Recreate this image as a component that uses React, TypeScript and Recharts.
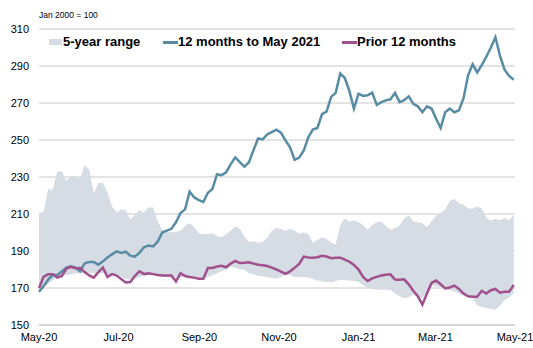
import { ComposedChart, Area, Line, XAxis, YAxis, CartesianGrid } from "recharts";

// twice-weekly readings, May-20 .. May-21 (Jan 2000 = 100)
const rangeHigh = [
  210.5, 211, 223.5, 223, 233, 233, 228, 230.6, 230, 229,
  236.5, 234, 221, 226.8, 227, 221.5, 214, 211, 212.5, 212,
  207, 209.6, 212.2, 210.8, 213.5, 213.5, 206, 201.5, 200.5, 200,
  200.4, 201, 203.5, 205, 203, 199.6, 199, 199.2, 199.5, 198,
  197.3, 199, 201, 203.5, 202, 198, 195, 195.2, 194.5, 195,
  197, 201, 202.5, 202, 201, 202, 201, 199.5, 200, 199,
  194.5, 196, 197.5, 196.5, 194.5, 193.5, 204, 207.5, 206, 206.5,
  205.5, 204, 201.5, 204, 205.5, 206, 203.5, 201.5, 202.5, 203.8,
  207.5, 209.2, 206, 205.5, 205, 203, 206, 209, 210.5, 212.5,
  217, 218.3, 216, 215, 213, 212.8, 214, 213, 208, 206.5,
  207.5, 206.5, 208, 206.5, 209.5,
];
const rangeLow = [
  169, 170.5, 172, 174, 176, 176.5, 177, 177.5, 178, 178,
  178, 178, 178, 178, 178, 177.5, 177, 176.5, 176, 175,
  174.5, 175, 176, 176.5, 177, 177, 177, 176.5, 176, 175.5,
  175, 175.5, 176, 175.5, 175, 175, 175, 176, 177, 178,
  179, 180, 181.5, 181, 180, 180, 178, 177.5, 176.5, 176.2,
  176, 175.5, 175, 176, 177.5, 177, 176, 176, 176, 175.5,
  175, 174, 173.5, 173.2, 173, 173.8, 174.5, 174.2, 174, 173.8,
  173.4, 171.5, 170, 169.5, 169, 169, 169, 168.9, 167, 165.5,
  164.5, 165, 166.5, 165, 164.5, 168, 171.3, 171, 170.6, 169.5,
  169, 168, 167.1, 166, 165, 164.4, 160.5, 159.7, 159.2, 158.8,
  158.3, 160.5, 163.5, 165, 167,
];
const last12 = [
  168, 171, 174.5, 177, 177, 179, 181, 181.7, 181, 179,
  183.3, 184, 184, 182.6, 184.4, 186.5, 188.2, 189.8, 189, 189.6,
  187.5, 187, 189, 192, 193, 192.5, 195, 200, 201, 202,
  205.5, 210.5, 212.5, 222, 219, 217.5, 216.5, 221.5, 223.5, 231.5,
  231, 232.5, 237, 240.6, 238, 235.5, 238, 244.5, 250.8, 250.3,
  253, 254.3, 255.6, 254, 249.8, 246, 239.3, 240.5, 244.3, 251.5,
  255.6, 256.5, 264, 265.3, 273.3, 275.5, 286, 283.5, 276.5, 267,
  275, 273.8, 274.2, 275.6, 269, 270.5, 271.4, 272, 275.5, 270.5,
  271.5, 273.6, 269.5, 268.2, 265, 268.2, 267, 261.5, 256.5, 265,
  267, 265, 266, 272.5, 285, 291, 286.5, 290.5, 295, 300,
  305.5, 295.5, 288, 284.6, 282.6,
];
const prior12 = [
  170, 176, 177.5, 177.5, 175.6, 176.5, 180.5, 181.5, 180.7, 180.8,
  178.6, 176.8, 175.6, 178.6, 181, 176, 177.5, 176.7, 174.8, 173,
  173.2, 176.5, 179, 177.6, 177.9, 177.5, 177, 176.7, 176.7, 176.7,
  173.5, 178, 176.5, 176, 175.6, 175, 175, 180.8, 180.8, 181.6,
  182, 181.2, 183.2, 184.6, 183.5, 183.6, 183.9, 183.2, 182.6, 182.3,
  181.9, 181, 180, 178.8, 177.7, 179, 180.9, 183, 187, 186.5,
  186.3, 186.6, 187.4, 187, 186.1, 186.4, 186.4, 185.3, 184.2, 182.5,
  180, 176, 173.8, 175.2, 176, 176.8, 177.2, 177.4, 174.6, 174.5,
  174.7, 172, 168.5, 165.5, 161, 167, 172.7, 174, 172, 169.8,
  170.3, 171.3, 169.5, 167, 165.5, 165.3, 165.3, 168.5, 167, 168.8,
  169.5, 167.5, 168, 168, 171.6,
];

const tickDays = [0, 61, 123, 184, 245, 304, 365];
const tickLabels = ["May-20", "Jul-20", "Sep-20", "Nov-20", "Jan-21", "Mar-21", "May-21"];
const yTicks = [150, 170, 190, 210, 230, 250, 270, 290, 310];

const data = last12.map((v, i) => ({
  day: i * 3.5,
  range: [rangeLow[i], rangeHigh[i]],
  last12: v,
  prior12: prior12[i],
}));

const FONT = "'Liberation Sans', Arial, sans-serif";
const BLUE = "#588ca5";
const PURPLE = "#a0508c";
const BAND = "#d6dce3";

const legendText = { position: "absolute" as const, top: 34, fontSize: 13, fontWeight: 700, color: "#000", whiteSpace: "nowrap" as const };

export default function App() {
  return (
    <div style={{ position: "absolute", left: 0, top: 0, width: 533, height: 348, background: "#fff", fontFamily: FONT }}>
      <ComposedChart width={533} height={348} data={data} margin={{ top: 29, right: 18, bottom: 0, left: 0 }}>
        <CartesianGrid vertical={false} stroke="#c8c8c8" />
        <XAxis
          dataKey="day"
          type="number"
          domain={[0, 365]}
          ticks={tickDays}
          tickFormatter={(d: number) => tickLabels[tickDays.indexOf(d)]}
          height={23}
          axisLine={{ stroke: "#c8c8c8" }}
          tickLine={false}
          tick={{ fontSize: 11, fill: "#000", fontFamily: FONT }}
          interval={0}
        />
        <YAxis
          domain={[150, 310]}
          ticks={yTicks}
          width={39}
          axisLine={false}
          tickLine={false}
          tickMargin={4}
          tick={{ fontSize: 11, fill: "#000", fontFamily: FONT }}
        />
        <Area dataKey="range" stroke="none" fill={BAND} fillOpacity={1} isAnimationActive={false} />
        <Line dataKey="last12" stroke={BLUE} strokeWidth={2.5} dot={false} isAnimationActive={false} />
        <Line dataKey="prior12" stroke={PURPLE} strokeWidth={2.5} dot={false} isAnimationActive={false} />
      </ComposedChart>
      <div style={{ position: "absolute", left: 39, top: 10, fontSize: 8.5, color: "#000" }}>Jan 2000 = 100</div>
      <div style={{ position: "absolute", left: 49, top: 39, width: 13, height: 6, background: BAND }} />
      <div style={{ ...legendText, left: 63 }}>5-year range</div>
      <div style={{ position: "absolute", left: 163, top: 41, width: 15, height: 2.5, background: BLUE }} />
      <div style={{ ...legendText, left: 178 }}>12 months to May 2021</div>
      <div style={{ position: "absolute", left: 342, top: 41, width: 15, height: 2.5, background: PURPLE }} />
      <div style={{ ...legendText, left: 357 }}>Prior 12 months</div>
    </div>
  );
}
